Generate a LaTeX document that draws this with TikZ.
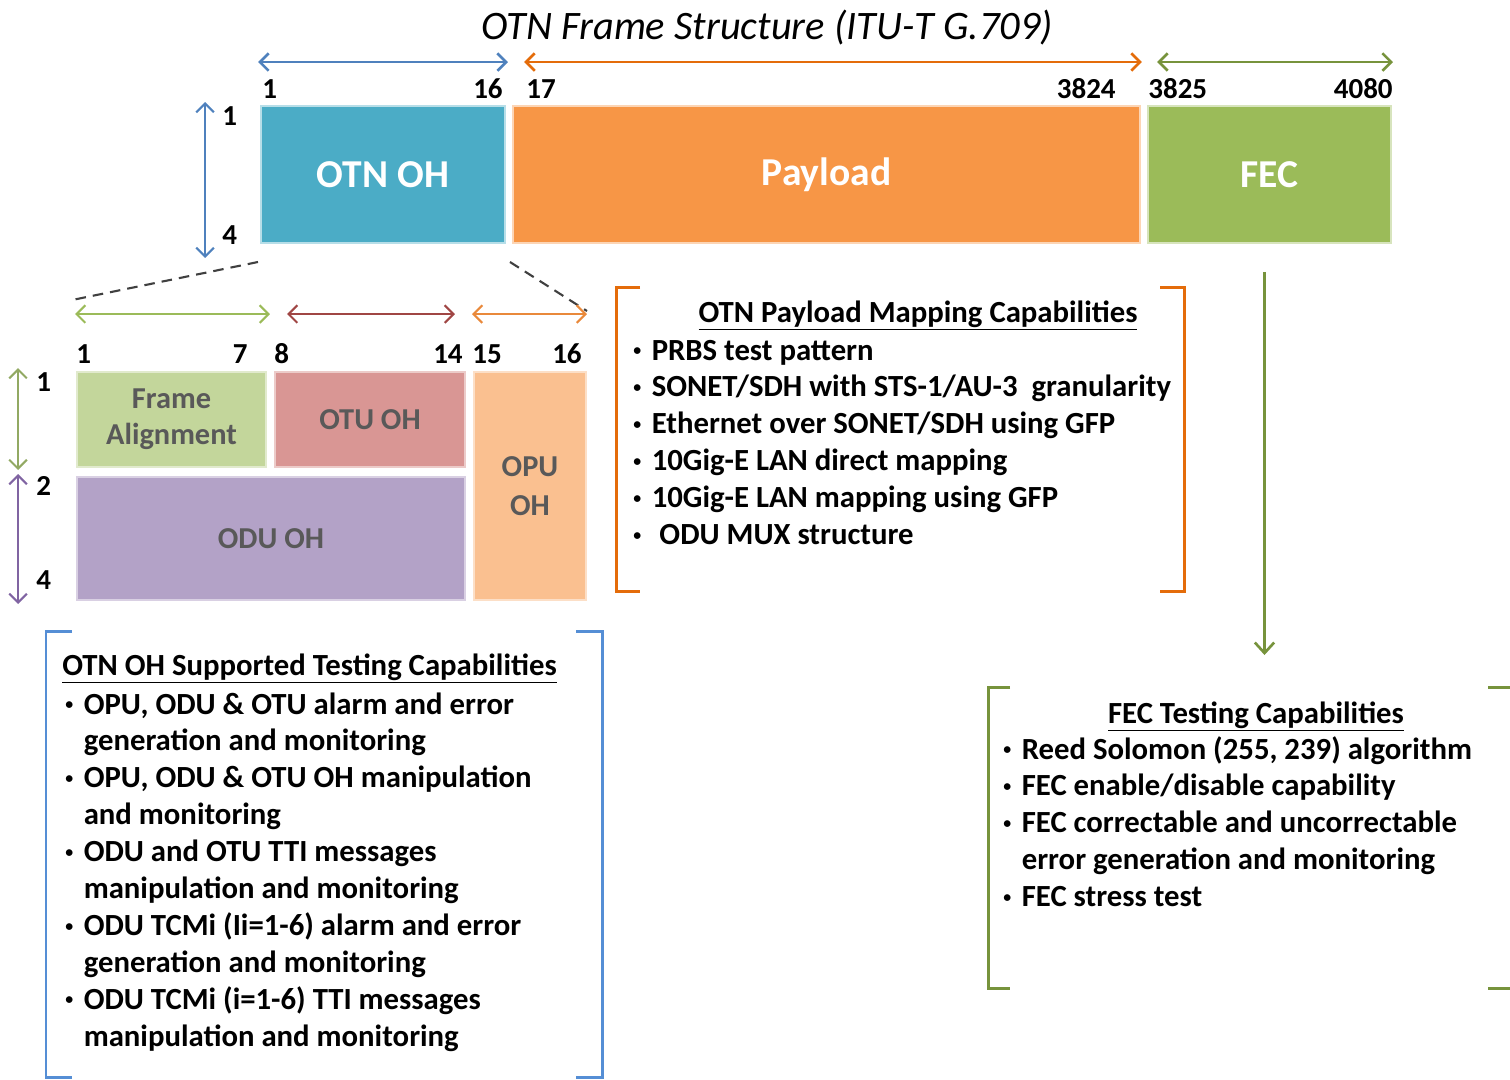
\documentclass[tikz,border=0pt]{standalone}
\usepackage{fontspec}
\setmainfont{Carlito}
\usetikzlibrary{arrows.meta,calc}
\definecolor{otnblue}{RGB}{75,172,198}
\definecolor{payorange}{RGB}{247,150,70}
\definecolor{fecgreen}{RGB}{155,187,89}
\definecolor{dimblue}{RGB}{79,129,189}
\definecolor{dimorange}{RGB}{228,108,10}
\definecolor{dimgreen}{RGB}{119,147,60}
\definecolor{fagreen}{RGB}{195,214,155}
\definecolor{otured}{RGB}{217,150,148}
\definecolor{odupurple}{RGB}{179,162,199}
\definecolor{opuorange}{RGB}{250,192,144}
\definecolor{dimred}{RGB}{160,70,68}
\definecolor{dimpurple}{RGB}{128,100,162}
\definecolor{brblue}{RGB}{85,142,213}
\definecolor{ohtext}{RGB}{89,89,89}
\newcommand{\itembul}{\makebox[10.5pt][l]{\raisebox{2.5pt}{\fontsize{9}{9}\selectfont\textbullet}}}

\begin{document}
\begin{tikzpicture}[x=0.02cm,y=-0.02cm,
  blk/.style={inner sep=0pt,outer sep=0pt,line width=1pt,font=\fontsize{22.5}{26}\selectfont\bfseries,text=white},
  subblk/.style={inner sep=0pt,outer sep=0pt,line width=1pt,align=center,font=\fontsize{17.3}{20.5}\selectfont\bfseries,text=ohtext},
  num/.style={inner sep=0pt,font=\fontsize{16.5}{18}\selectfont\bfseries},
  dim/.style={<->,>={Straight Barb[length=5pt,width=10pt]},line width=1.5pt},
  vdim/.style={dim,line width=1.2pt},
  bracket/.style={line width=1.7pt},
  ttl/.style={inner sep=0pt,font=\fontsize{17.5}{21}\selectfont\bfseries},
  lst/.style={inner sep=0pt,font=\fontsize{17.5}{21}\selectfont\bfseries}]
\clip (0,0) rectangle (1510,1079);

% title
\node[font=\fontsize{23}{27}\selectfont\itshape] (title) at (767,28) {OTN Frame Structure (ITU-T G.709)};

% frame blocks
\node[blk,fill=otnblue,draw=otnblue!40!white,minimum width=4.88cm,minimum height=2.74cm] (otnoh) at (383,174.5) {\raisebox{-2pt}{OTN OH}};
\node[blk,fill=payorange,draw=payorange!40!white,minimum width=12.54cm,minimum height=2.74cm] (payload) at (826.5,174.5) {\raisebox{-2pt}{Payload}};
\node[blk,fill=fecgreen,draw=fecgreen!40!white,minimum width=4.86cm,minimum height=2.74cm] (fec) at (1269.5,174.5) {\raisebox{-2pt}{FEC}};

% column numbers
\node[num,anchor=base west] (c1) at (262,98) {1};
\node[num,anchor=base east] (c16) at (503,98) {16};
\node[num,anchor=base west] (c17) at (526,98) {17};
\node[num,anchor=base east] (c3824) at (1116,98) {3824};
\node[num,anchor=base west] (c3825) at (1148,98) {3825};
\node[num,anchor=base east] (c4080) at (1393,98) {4080};
\node[num,anchor=base west] (r1) at (222,125) {1};
\node[num,anchor=base west] (r4) at (222,244) {4};

% column and row arrows
\draw[dim,dimblue] ($(otnoh.north west)+(-3,-44)$) -- ($(otnoh.north east)+(3,-44)$);
\draw[dim,dimorange] ($(payload.north west)+(11,-44)$) -- ($(payload.north east)+(2,-44)$);
\draw[dim,dimgreen] ($(fec.north west)+(9,-44)$) -- ($(fec.north east)+(2,-44)$);
\draw[vdim,dimblue] ($(otnoh.north west)+(-56,-4)$) -- ($(otnoh.south west)+(-56,15)$);

% zoom into OTN OH
\node[subblk,fill=fagreen,draw=fagreen!50!white,minimum width=3.78cm,minimum height=1.9cm] (frame) at (171.5,419.5) {Frame\\Alignment};
\node[subblk,fill=otured,draw=otured!50!white,minimum width=3.8cm,minimum height=1.9cm] (otu) at (370,419.5) {OTU OH};
\node[subblk,fill=odupurple,draw=odupurple!50!white,minimum width=7.76cm,minimum height=2.46cm] (odu) at (271,538.5) {ODU OH};
\node[subblk,fill=opuorange,draw=opuorange!50!white,minimum width=2.24cm,minimum height=4.56cm,font=\fontsize{17.3}{22.5}\selectfont\bfseries] (opu) at (530,486) {OPU\\OH};

\draw[dashed,dash pattern=on 6pt off 4pt,line width=1.2pt,black!75] ($(otnoh.south west)+(-3,19)$) -- ($(frame.north west)+(-5,-72)$);
\draw[dashed,dash pattern=on 6pt off 4pt,line width=1.2pt,black!75] ($(otnoh.south east)+(5,19)$) -- ($(opu.north east)+(1,-61)$);

\node[num,anchor=base west] (s1) at (76,363) {1};
\node[num,anchor=base east] (s7) at (248,363) {7};
\node[num,anchor=base west] (s8) at (274,363) {8};
\node[num,anchor=base east] (s14) at (463,363) {14};
\node[num,anchor=base west] (s15) at (472,363) {15};
\node[num,anchor=base east] (s16) at (582,363) {16};
\node[num,anchor=base west] (t1) at (36,391) {1};
\node[num,anchor=base west] (t2) at (36,495) {2};
\node[num,anchor=base west] (t4) at (36,589) {4};

\draw[dim,line width=1.2pt,fecgreen] ($(frame.north west)+(-2,-58)$) -- ($(frame.north east)+(4,-58)$);
\draw[dim,line width=1.2pt,dimred] ($(otu.north west)+(12,-58)$) -- ($(otu.north east)+(-10,-58)$);
\draw[dim,line width=1.2pt,dimorange!80!white] ($(opu.north west)+(-2,-58)$) -- ($(opu.north east)+(1,-58)$);
\draw[vdim,dimgreen!80!white] ($(frame.north west)+(-59,-4)$) -- ($(frame.south west)+(-59,3)$);
\draw[vdim,dimpurple] ($(odu.north west)+(-59,-3)$) -- ($(odu.south west)+(-59,4)$);

% payload mapping box
\draw[bracket,dimorange] (640,287) -- (616,287) -- (616,591) -- (640,591);
\draw[bracket,dimorange] (1160,287) -- (1184,287) -- (1184,591) -- (1160,591);
\node[ttl,anchor=base] (paytitle) at (918,322) {\underline{OTN Payload Mapping Capabilities}};
\node[lst,anchor=base west] (paylist) at (633,360) {\begin{tabular}[t]{@{}l@{}l@{}}
\itembul & PRBS test pattern\\
\itembul & SONET/SDH with STS-1/AU-3\ \ granularity\\
\itembul & Ethernet over SONET/SDH using GFP\\
\itembul & 10Gig-E LAN direct mapping\\
\itembul & 10Gig-E LAN mapping using GFP\\
\itembul & \hspace{0.25em}ODU MUX structure
\end{tabular}};

% OH testing box
\draw[bracket,brblue] (72,631) -- (46,631) -- (46,1077) -- (72,1077);
\draw[bracket,brblue] (576,631) -- (602,631) -- (602,1077) -- (576,1077);
\node[ttl,anchor=base west] (ohtitle) at (62,675) {\underline{OTN OH Supported Testing Capabilities}};
\node[lst,anchor=base west] (ohlist) at (65,714) {\begin{tabular}[t]{@{}l@{}l@{}}
\itembul & OPU, ODU \& OTU alarm and error\\
 & generation and monitoring\\
\itembul & OPU, ODU \& OTU OH manipulation\\
 & and monitoring\\
\itembul & ODU and OTU TTI messages\\
 & manipulation and monitoring\\
\itembul & ODU TCMi (Ii=1-6) alarm and error\\
 & generation and monitoring\\
\itembul & ODU TCMi (i=1-6) TTI messages\\
 & manipulation and monitoring
\end{tabular}};

% FEC testing box
\draw[bracket,dimgreen] ($(fec.south)+(-5,29)$) edge[->,>={Straight Barb[length=6pt,width=11pt]},line width=1.5pt] ($(fec.south)+(-5,412)$);
\draw[bracket,dimgreen] (1010,687) -- (988,687) -- (988,988) -- (1010,988);
\draw[bracket,dimgreen] (1488,687) -- (1512,687) -- (1512,988) -- (1488,988);
\node[ttl,anchor=base] (fectitle) at (1256,723) {\underline{FEC Testing Capabilities}};
\node[lst,anchor=base west] (feclist) at (1003,759) {\begin{tabular}[t]{@{}l@{}l@{}}
\itembul & Reed Solomon (255, 239) algorithm\\
\itembul & FEC enable/disable capability\\
\itembul & FEC correctable and uncorrectable\\
 & error generation and monitoring\\
\itembul & FEC stress test
\end{tabular}};
\end{tikzpicture}
\end{document}
